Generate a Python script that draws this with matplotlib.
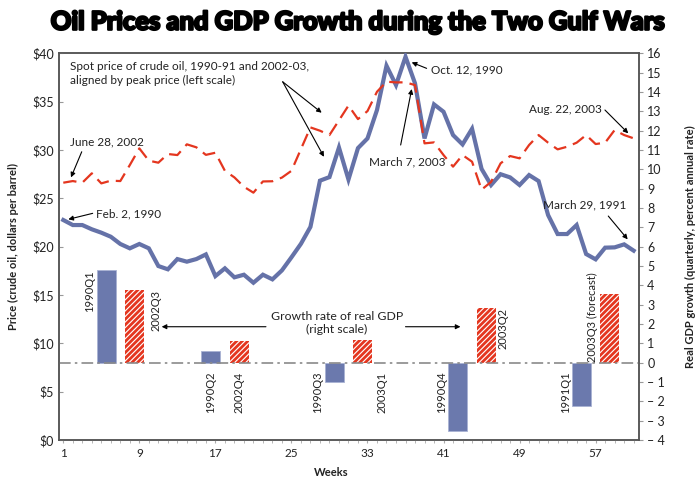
import matplotlib
matplotlib.use('Agg')
import matplotlib.pyplot as plt
import matplotlib.patheffects as pe
from matplotlib.ticker import FixedLocator, MultipleLocator, FuncFormatter

# ---------------- data ----------------
weeks = list(range(1, 62))
oil_1990_91 = [22.76, 22.24, 22.24, 21.8, 21.45, 21.03, 20.28, 19.83, 20.28, 19.83,
               18.0, 17.66, 18.72, 18.45, 18.72, 19.2, 16.96, 17.76, 16.83, 17.1,
               16.27, 17.1, 16.62, 17.55, 18.9, 20.3, 22.05, 26.83, 27.2, 30.26,
               26.95, 30.2, 31.2, 34.14, 38.72, 36.72, 39.65, 36.9, 31.2, 34.72,
               33.96, 31.55, 30.58, 32.2, 28.05, 26.38, 27.5, 27.17, 26.38, 27.41,
               26.79, 23.27, 21.31, 21.31, 22.24, 19.24, 18.69, 19.9, 19.93, 20.24,
               19.59]
oil_2002_03 = [26.62, 26.79, 26.62, 27.59, 26.55, 26.83, 26.79, 28.45, 30.17, 28.9,
               28.69, 29.59, 29.48, 30.59, 30.28, 29.5, 29.72, 27.85, 27.17, 26.2,
               25.59, 26.75, 26.77, 27.15, 27.85, 30.1, 32.34, 32.0, 31.55, 33.07,
               34.6, 33.2, 34.03, 36.03, 37.07, 37.0, 37.0, 36.72, 30.69, 30.79,
               29.48, 28.28, 29.48, 28.79, 25.9, 26.7, 28.62, 29.38, 29.14, 30.52,
               31.55, 30.76, 30.07, 30.34, 30.76, 31.55, 30.62, 30.76, 32.07, 31.55,
               31.21]

gdp_quarters = ['1990Q1', '2002Q3', '1990Q2', '2002Q4', '1990Q3', '2003Q1',
                '1990Q4', '2003Q2', '1991Q1', '2003Q3 (forecast)']
gdp_week = [5.5, 8.5, 16.5, 19.5, 29.5, 32.5, 42.5, 45.5, 55.5, 58.5]
gdp_growth = [4.8, 3.75, 0.6, 1.1, -1.0, 1.15, -3.55, 2.85, -2.25, 3.55]
gdp_war = ['1990', '2002', '1990', '2002', '1990', '2002', '1990', '2002', '1990', '2002']

x_ticks = [1, 9, 17, 25, 33, 41, 49, 57]

# ---------------- style ----------------
BLUE = '#6572A8'
BLUE_BAR = '#6B79AD'
RED = '#E4361F'
FONT = ['Lato', 'DejaVu Sans']
plt.rcParams['font.family'] = FONT
plt.rcParams['hatch.linewidth'] = 2.0

fig = plt.figure(figsize=(7.0, 4.83), dpi=100)
ax = fig.add_axes([0.0847, 0.089, 0.828, 0.8005])
ax2 = ax.twinx()
ax.set_zorder(2)
ax.patch.set_visible(False)
ax2.set_zorder(1)

# lines (left scale)
ax.plot(weeks, oil_1990_91, color=BLUE, lw=3.0, solid_joinstyle='miter', zorder=3)
ax.plot(weeks, oil_2002_03, color=RED, lw=1.6, dashes=(6, 3.2), zorder=4)

ax.set_xlim(0.58, 61.55)
ax.set_ylim(0, 40)

# bars (right scale)
for q, w, g, war in zip(gdp_quarters, gdp_week, gdp_growth, gdp_war):
    if war == '1990':
        ax2.bar(w, g, width=2.0, color=BLUE_BAR, edgecolor='#A9B2D3', linewidth=0.6, zorder=2)
    else:
        ax2.bar(w, g, width=2.0, color='white', edgecolor=RED, hatch='//////',
                linewidth=0, zorder=2)
ax2.axhline(0, color='#8a8a8a', lw=1.2, dashes=(7, 2.5, 1.5, 2.5), zorder=3)
ax2.set_ylim(-4, 16)

# bar labels
label_dx = [-1.7, 2.25, 0.0, 0.0, -1.75, 2.0, -1.7, 1.75, -1.7, -1.8]
for q, w, g, dx in zip(gdp_quarters, gdp_week, gdp_growth, label_dx):
    if q.startswith('2003Q3'):
        ax2.text(w + dx, 0.05, q, rotation=90, ha='center', va='bottom', fontsize=8, color='#222222')
    elif g > 0 and dx != 0 and not q.startswith('2003Q1'):
        ax2.text(w + dx, g, q, rotation=90, ha='center', va='top', fontsize=8, color='#222222')
    else:
        ax2.text(w + dx, -0.46, q, rotation=90, ha='center', va='top', fontsize=8, color='#222222')

# ---------------- axes formatting ----------------
for a in (ax, ax2):
    for s in a.spines.values():
        s.set_color('#555555')
        s.set_linewidth(1.1)

ax.yaxis.set_major_locator(MultipleLocator(5))
ax.yaxis.set_major_formatter(FuncFormatter(lambda v, p: f'${int(v)}'))
ax.tick_params(axis='y', direction='in', length=3, color='#999999', labelsize=9,
               labelcolor='#222222', pad=4)
ax.xaxis.set_major_locator(FixedLocator(x_ticks))
ax.xaxis.set_minor_locator(MultipleLocator(1))
ax.tick_params(axis='x', which='both', direction='out', length=2.5, color='#aaaaaa',
               labelsize=8.5, labelcolor='#222222', pad=3)

ax2.yaxis.set_major_locator(MultipleLocator(1))
ax2.yaxis.set_major_formatter(FuncFormatter(
    lambda v, p: f'\u2013 {abs(int(round(v)))}' if v < -0.01 else f'{int(round(v))}'))
ax2.tick_params(axis='y', direction='out', length=3, color='#999999', labelsize=9,
                labelcolor='#222222', pad=3)

ax.set_xlabel('Weeks', fontsize=8, fontweight='bold', color='#222222')
ax.xaxis.set_label_coords(0.47, -0.07)
ax.set_ylabel('Price (crude oil, dollars per barrel)', fontsize=8, fontweight='bold',
              color='#222222')
ax.yaxis.set_label_coords(-0.07, 0.5)
ax2.set_ylabel('Real GDP growth (quarterly, percent annual rate)', fontsize=8,
               fontweight='bold', color='#222222')
ax2.yaxis.set_label_coords(1.08, 0.5)

fig.text(0.51, 0.955, 'Oil Prices and GDP Growth during the Two Gulf Wars',
         ha='center', va='center', fontsize=18.4, fontweight='black', color='black',
         path_effects=[pe.withStroke(linewidth=1.6, foreground='black')])

# ---------------- annotations ----------------
ARW = dict(arrowstyle='-|>', color='black', lw=0.8, mutation_scale=7, shrinkA=0, shrinkB=0)
TXT = dict(fontsize=8.5, color='#222222')

ax.text(1.7, 37.93, 'Spot price of crude oil, 1990-91 and 2002-03,\naligned by peak price (left scale)',
        ha='left', va='center', linespacing=1.3, **TXT)
ax.annotate('', xy=(28.18, 33.86), xytext=(24.08, 37.06), arrowprops=ARW)
ax.annotate('', xy=(28.42, 29.3), xytext=(24.08, 37.06), arrowprops=ARW)

ax.text(1.7, 30.86, 'June 28, 2002', ha='left', va='center', **TXT)
ax.annotate('', xy=(1.81, 27.17), xytext=(2.94, 29.82), arrowprops=ARW)

ax.text(4.4, 23.38, 'Feb. 2, 1990', ha='left', va='center', **TXT)
ax.annotate('', xy=(1.53, 22.83), xytext=(4.09, 23.45), arrowprops=ARW)

ax.text(39.65, 38.27, 'Oct. 12, 1990', ha='left', va='center', **TXT)
ax.annotate('', xy=(37.65, 39.07), xytext=(39.22, 38.45), arrowprops=ARW)

ax.text(33.19, 28.79, 'March 7, 2003', ha='left', va='center', **TXT)
ax.annotate('', xy=(37.65, 36.31), xytext=(36.49, 30.52), arrowprops=ARW)

ax.text(57.66, 34.21, 'Aug. 22, 2003', ha='right', va='center', **TXT)
ax.annotate('', xy=(60.43, 31.73), xytext=(57.98, 34.14), arrowprops=ARW)

ax.text(60.26, 24.31, 'March 29, 1991', ha='right', va='center', **TXT)
ax.annotate('', xy=(60.37, 20.76), xytext=(58.33, 23.17), arrowprops=ARW)

ax.text(29.79, 12.1, 'Growth rate of real GDP\n(right scale)', ha='center', va='center',
        linespacing=1.2, fontsize=8.8, color='#222222')
ax.annotate('', xy=(11.35, 11.72), xytext=(22.32, 11.72), arrowprops=ARW)
ax.annotate('', xy=(42.78, 11.72), xytext=(37.0, 11.72), arrowprops=ARW)

fig.savefig('out.png', dpi=100)
